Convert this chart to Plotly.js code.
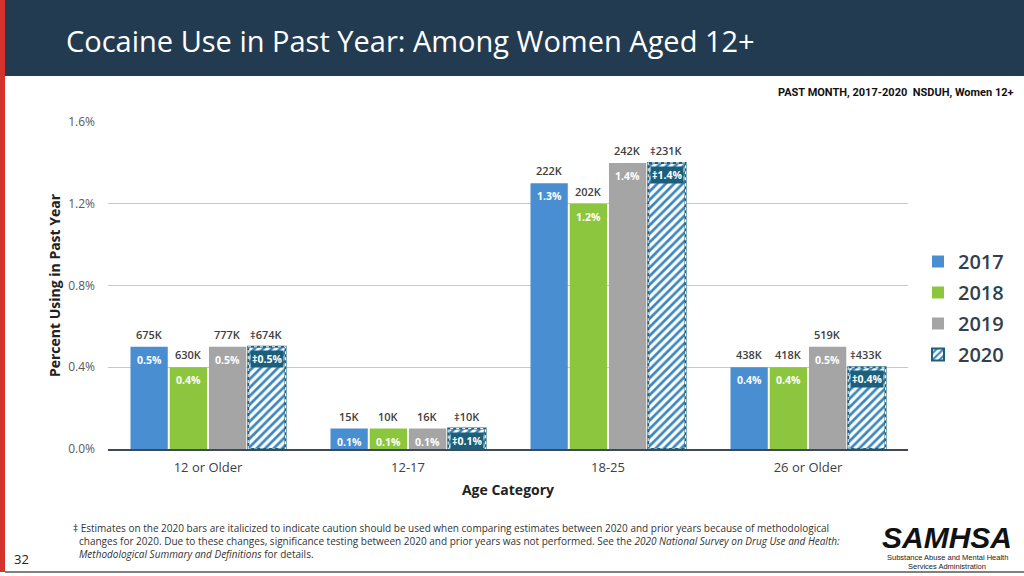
<!DOCTYPE html>
<html>
<head>
<meta charset="utf-8">
<script src="https://cdn.plot.ly/plotly-3.0.1.min.js"></script>
<style>
html,body{margin:0;padding:0;background:#fff;}
#chart{width:1024px;height:576px;}
</style>
</head>
<body>
<div id="chart"></div>
<script>
// ---- data ----
const categories = ['12 or Older', '12-17', '18-25', '26 or Older'];
const years = ['2017', '2018', '2019', '2020'];
const pct2017 = [0.5, 0.1, 1.3, 0.4];
const pct2018 = [0.4, 0.1, 1.2, 0.4];
const pct2019 = [0.5, 0.1, 1.4, 0.5];
const pct2020 = [0.5, 0.1, 1.4, 0.4];
const count2017 = ['675K', '15K', '222K', '438K'];
const count2018 = ['630K', '10K', '202K', '418K'];
const count2019 = ['777K', '16K', '242K', '519K'];
const count2020 = ['‡674K', '‡10K', '‡231K', '‡433K'];
const yTickVals = [0, 0.4, 0.8, 1.2, 1.6];
const yTickText = ['0.0%', '0.4%', '0.8%', '1.2%', '1.6%'];

const titleText = 'Cocaine Use in Past Year: Among Women Aged 12+';
const subTitle = 'PAST MONTH, 2017-2020  NSDUH, Women 12+';
const footLines = [
  '‡ Estimates on the 2020 bars are italicized to indicate caution should be used when comparing estimates between 2020 and prior years because of methodological',
  'changes for 2020. Due to these changes, significance testing between 2020 and prior years was not performed. See the <i>2020 National Survey on Drug Use and Health:</i>',
  '<i>Methodological Summary and Definitions</i> for details.'
];

// ---- style / layout constants ----
const W = 1024, H = 576;
const M = {l: 108, r: 116, t: 122, b: 127, autoexpand: false};
const plotW = W - M.l - M.r, plotH = H - M.t - M.b;
const bargap = 0.215, bargroupgap = 0.05;
const colors = ['#4a8ed2', '#8cc63f', '#a5a5a5'];
const teal = '#1b5f7a';
const stripe = '#3a86bd';
const font = '"Open Sans", "Noto Sans", sans-serif';

const pctSeries = [pct2017, pct2018, pct2019, pct2020];
const countSeries = [count2017, count2018, count2019, count2020];

const px = x => (x - M.l) / plotW;          // pixel -> paper x
const py = y => (H - M.b - y) / plotH;      // pixel -> paper y

const traces = years.map((yr, i) => {
  const t = {
    type: 'bar', name: yr, x: categories, y: pctSeries[i],
    legendgroup: 'g' + yr,
    hoverinfo: 'x+y+name',
    marker: {color: colors[i] || 'white', line: {width: 0}}
  };
  if (i === 3) {
    t.marker = {
      color: 'white',
      pattern: {shape: '/', fgcolor: stripe, bgcolor: 'white', size: 6, solidity: 0.45},
      line: {color: teal, width: 2}
    };
  }
  return t;
});

// bar center offsets in px
const catPx = plotW / categories.length;
const slot = catPx * (1 - bargap) / years.length;
const offs = years.map((_, i) => (i - (years.length - 1) / 2) * slot);
const barW = slot * (1 - bargroupgap);

const annotations = [];
const shapes = [];
years.forEach((yr, i) => {
  categories.forEach((c, j) => {
    const v = pctSeries[i][j];
    annotations.push({
      x: c, y: v, xref: 'x', yref: 'y', xshift: offs[i], yshift: 3,
      yanchor: 'bottom', showarrow: false, text: countSeries[i][j],
      font: {family: font, size: 11, color: '#404040', weight: 600}
    });
    const last = i === 3;
    annotations.push({
      x: c, y: v, xref: 'x', yref: 'y', xshift: offs[i], yshift: last ? -3 : -5,
      yanchor: 'top', showarrow: false,
      text: (last ? '‡' : '') + v.toFixed(1) + '%',
      bgcolor: last ? teal : 'rgba(0,0,0,0)',
      borderpad: last ? 1 : 0,
      font: {family: font, size: 10.5, color: 'white', weight: 700}
    });
    if (last) {
      const s0 = (offs[i] - barW / 2) / catPx, s1 = (offs[i] + barW / 2) / catPx;
      shapes.push({type: 'rect', xref: 'x', yref: 'y', x0: c, x1: c, x0shift: s0, x1shift: s1,
        y0: 0, y1: v, line: {color: 'white', width: 1, dash: 'dot'}, layer: 'above'});
    }
  });
});

// page decorations
shapes.push(
  {type: 'rect', xref: 'paper', yref: 'paper', x0: px(0), x1: px(W), y0: py(0), y1: py(76), fillcolor: '#233b50', line: {width: 0}, layer: 'below'},
  {type: 'rect', xref: 'paper', yref: 'paper', x0: px(0), x1: px(5), y0: py(0), y1: py(572), fillcolor: '#d4322c', line: {width: 0}, layer: 'below'},
  {type: 'line', xref: 'paper', yref: 'paper', x0: px(5), x1: px(W), y0: py(572), y1: py(572), line: {color: '#808080', width: 2}, layer: 'below'}
);

annotations.push(
  {xref: 'paper', yref: 'paper', x: px(64), y: py(40), xanchor: 'left', yanchor: 'middle', showarrow: false,
   text: titleText, font: {family: font, size: 29, color: 'white', weight: 500}},
  {xref: 'paper', yref: 'paper', x: px(1016), y: py(92), xanchor: 'right', yanchor: 'middle', showarrow: false,
   text: '<b>' + subTitle + '</b>', font: {family: '"Liberation Sans Narrow", "Roboto", sans-serif', size: 11, color: '#111'}},
  {xref: 'paper', yref: 'paper', x: px(12), y: py(559), xanchor: 'left', yanchor: 'middle', showarrow: false,
   text: '32', font: {family: font, size: 13, color: '#222'}},
  {xref: 'paper', yref: 'paper', x: px(947), y: py(537), xanchor: 'center', yanchor: 'middle', showarrow: false,
   text: '<b><i>SAMHSA</i></b>', font: {family: '"Liberation Sans", Arial, sans-serif', size: 30, color: '#111'}},
  {xref: 'paper', yref: 'paper', x: px(947), y: py(557), xanchor: 'center', yanchor: 'middle', showarrow: false,
   text: 'Substance Abuse and Mental Health', font: {family: '"Liberation Sans Narrow", sans-serif', size: 7.5, color: '#222'}},
  {xref: 'paper', yref: 'paper', x: px(947), y: py(566), xanchor: 'center', yanchor: 'middle', showarrow: false,
   text: 'Services Administration', font: {family: '"Liberation Sans Narrow", sans-serif', size: 7.5, color: '#222'}}
);
footLines.forEach((t, k) => {
  annotations.push({xref: 'paper', yref: 'paper', x: px(k === 0 ? 71 : 77), y: py(528 + k * 13),
    xanchor: 'left', yanchor: 'middle', showarrow: false, text: t,
    font: {family: font, size: 10, color: '#333'}});
});

const layout = {
  width: W, height: H,
  margin: M,
  paper_bgcolor: 'white', plot_bgcolor: 'white',
  barmode: 'group', bargap: bargap, bargroupgap: bargroupgap,
  font: {family: font, color: '#404040'},
  showlegend: true,
  legend: {x: px(918), y: py(242), xanchor: 'left', yanchor: 'top',
    font: {family: font, size: 20, color: '#333f4c', weight: 600},
    tracegroupgap: 2, itemwidth: 30, bgcolor: 'rgba(0,0,0,0)'},
  xaxis: {
    type: 'category', categoryorder: 'array', categoryarray: categories,
    showgrid: false, showline: true, linecolor: '#3b4a5a', linewidth: 2,
    ticks: '', ticklabelstandoff: 5,
    tickfont: {family: font, size: 13, color: '#404040'},
    title: {text: '<b>Age Category</b>', font: {family: font, size: 14, color: '#222'}, standoff: 11}
  },
  yaxis: {
    range: [0, 1.6], tickvals: yTickVals, ticktext: yTickText,
    showgrid: true, gridcolor: '#c8c8c8', gridwidth: 1,
    zeroline: false, showline: false, ticks: '', ticklabelstandoff: 12,
    tickfont: {family: font, size: 12, color: '#595959'},
    title: {text: '<b>Percent Using in Past Year</b>', font: {family: font, size: 14, color: '#222'}, standoff: 4}
  },
  shapes: shapes,
  annotations: annotations
};

Plotly.newPlot('chart', traces, layout, {displayModeBar: false, staticPlot: true});
</script>
</body>
</html>
